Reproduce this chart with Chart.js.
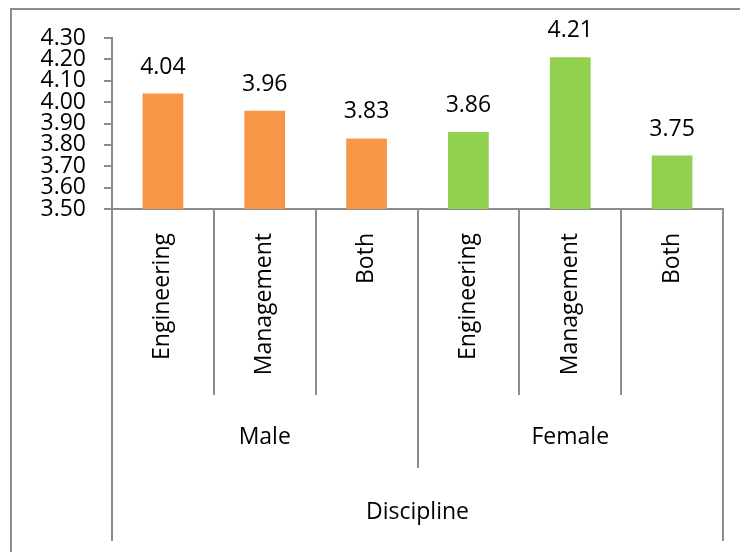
<!DOCTYPE html>
<html>
<head>
<meta charset="utf-8">
<script src="https://cdn.jsdelivr.net/npm/chart.js@4"></script>
<style>
  html, body { margin: 0; padding: 0; background: #fff; }
  #wrap { position: relative; width: 740px; height: 552px; overflow: hidden; }
  #frame { position: absolute; left: 10px; top: 8px; width: 800px; height: 600px;
           border-left: 2px solid #8c8c8c; border-top: 2px solid #8c8c8c; box-sizing: border-box; }
  canvas { position: absolute; left: 0; top: 0; }
</style>
</head>
<body>
<div id="wrap">
  <div id="frame"></div>
  <canvas id="c" width="740" height="552"></canvas>
</div>
<script>
const categories = ["Engineering", "Management", "Both", "Engineering", "Management", "Both"];
const groups = ["Male", "Female"];
const groupSizes = [3, 3];
const outerLabel = "Discipline";
const values = [4.04, 3.96, 3.83, 3.86, 4.21, 3.75];
const barColors = ["#F79646", "#F79646", "#F79646", "#92D050", "#92D050", "#92D050"];
const yTicks = [3.50, 3.60, 3.70, 3.80, 3.90, 4.00, 4.10, 4.20, 4.30];

const FONT = "'Open Sans', 'Liberation Sans', sans-serif";
const FSIZE = 23;
const LINE = "#8c8c8c";

const labelsPlugin = {
  id: 'valueLabels',
  afterDatasetsDraw(chart) {
    const ctx = chart.ctx;
    const meta = chart.getDatasetMeta(0);
    ctx.save();
    ctx.fillStyle = "#000";
    ctx.font = FSIZE + "px " + FONT;
    ctx.textAlign = "center";
    ctx.textBaseline = "alphabetic";
    meta.data.forEach((bar, i) => {
      ctx.fillText(values[i].toFixed(2), bar.x, bar.y - 20);
    });
    ctx.restore();
  }
};

const axisPlugin = {
  id: 'multiAxis',
  afterDraw(chart) {
    const ctx = chart.ctx;
    const xs = chart.scales.x;
    const area = chart.chartArea;
    const bottom = area.bottom;
    const n = categories.length;
    const bounds = [area.left];
    for (let i = 0; i < n - 1; i++) {
      bounds.push((xs.getPixelForValue(i) + xs.getPixelForValue(i + 1)) / 2);
    }
    bounds.push(area.right);
    ctx.save();
    ctx.strokeStyle = LINE;
    ctx.lineWidth = 2;
    const groupEdges = new Set([0, n]);
    let acc = 0;
    groupSizes.forEach(s => { acc += s; groupEdges.add(acc); });
    for (let b = 0; b <= n; b++) {
      let endY;
      if (b === 0 || b === n) endY = 541;
      else if (groupEdges.has(b)) endY = 468;
      else endY = 395;
      ctx.beginPath();
      ctx.moveTo(Math.round(bounds[b]), bottom);
      ctx.lineTo(Math.round(bounds[b]), endY);
      ctx.stroke();
    }
    ctx.fillStyle = "#000";
    ctx.font = FSIZE + "px " + FONT;
    ctx.textAlign = "center";
    ctx.textBaseline = "middle";
    let start = 0;
    groups.forEach((g, gi) => {
      const s = groupSizes[gi];
      const cx = (bounds[start] + bounds[start + s]) / 2;
      ctx.fillText(g, cx, 437);
      start += s;
    });
    ctx.fillText(outerLabel, (area.left + area.right) / 2, 512);
    ctx.restore();
  }
};

new Chart(document.getElementById('c'), {
  type: 'bar',
  data: {
    labels: categories,
    datasets: [{
      data: values,
      backgroundColor: barColors,
      borderWidth: 0,
      categoryPercentage: 1.0,
      barPercentage: 0.4
    }]
  },
  options: {
    responsive: false,
    animation: false,
    devicePixelRatio: 1,
    layout: { padding: { left: 0, right: 17, top: 38, bottom: 0 } },
    plugins: { legend: { display: false }, tooltip: { enabled: false } },
    scales: {
      x: {
        grid: { display: false, drawTicks: false },
        border: { display: true, color: LINE, width: 2 },
        ticks: {
          color: "#000",
          font: { family: FONT, size: FSIZE },
          minRotation: 90, maxRotation: 90,
          padding: 24,
          autoSkip: false
        },
        afterFit(scale) { scale.height = 343; }
      },
      y: {
        min: 3.5, max: 4.3,
        afterBuildTicks(scale) { scale.ticks = yTicks.map(v => ({ value: v })); },
        grid: { display: true, drawOnChartArea: false, drawTicks: true, tickLength: 8, color: LINE, lineWidth: 2 },
        border: { display: true, color: LINE, width: 2 },
        ticks: {
          color: "#000",
          font: { family: FONT, size: FSIZE },
          padding: 18,
          autoSkip: false,
          callback: (v) => Number(v).toFixed(2)
        },
        afterFit(scale) { scale.width = 112; }
      }
    }
  },
  plugins: [labelsPlugin, axisPlugin]
});
</script>
</body>
</html>
